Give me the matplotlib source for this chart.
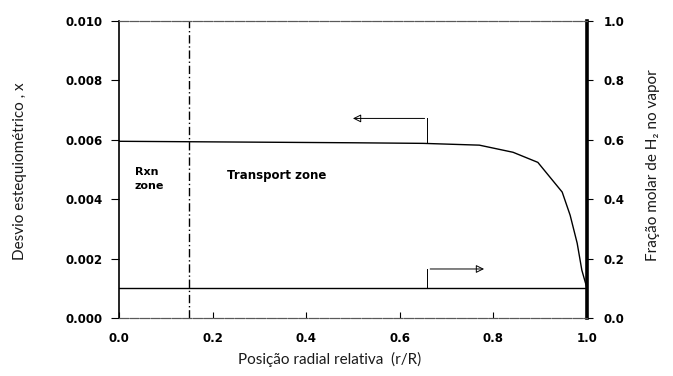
import matplotlib
matplotlib.use("Agg")
import matplotlib.pyplot as plt

# Data
r_x = [0.0, 0.3, 0.5, 0.65, 0.77, 0.842, 0.895, 0.947, 0.964, 0.979, 0.989, 1.0]
x_dev = [0.00595, 0.00592, 0.0059, 0.00588, 0.00582, 0.00558, 0.00524, 0.00424, 0.00346, 0.00252, 0.00161, 0.0010]
r_h2 = [0.0, 0.5, 1.0]
h2_frac = [0.1, 0.1, 0.1]
rxn_boundary = 0.15

xticks = [0.0, 0.2, 0.4, 0.6, 0.8, 1.0]
yticks_left = [0.000, 0.002, 0.004, 0.006, 0.008, 0.010]
yticks_right = [0.0, 0.2, 0.4, 0.6, 0.8, 1.0]

fig = plt.figure(figsize=(6.73, 3.76), dpi=100)
ax = fig.add_axes([0.1768, 0.1543, 0.6954, 0.7898])
ax2 = ax.twinx()

ax.set_xlim(0, 1.0)
ax.set_ylim(0, 0.010)
ax2.set_ylim(0, 1.0)

ax.plot(r_x, x_dev, color="black", lw=1.0)
ax2.plot(r_h2, h2_frac, color="black", lw=1.0)
ax.axvline(rxn_boundary, color="black", lw=1.0, linestyle=(0, (6, 2, 1, 2)))

# arrows indicating axes
ax.plot([0.659, 0.659], [0.00588, 0.00672], color="black", lw=0.7)
ax.annotate("", xy=(0.494, 0.00672), xytext=(0.659, 0.00672),
            arrowprops=dict(arrowstyle="-|>", color="black", lw=0.7,
                            mutation_scale=12, fill=False))
ax.plot([0.659, 0.659], [0.0010, 0.00165], color="black", lw=0.7)
ax.annotate("", xy=(0.786, 0.00165), xytext=(0.659, 0.00165),
            arrowprops=dict(arrowstyle="-|>", color="black", lw=0.7,
                            mutation_scale=12, fill=False))

ax.text(0.034, 0.0049, "Rxn", fontsize=8, fontweight="bold", va="center", ha="left")
ax.text(0.034, 0.00444, "zone", fontsize=8, fontweight="bold", va="center", ha="left")
ax.text(0.231, 0.0048, "Transport zone", fontsize=8.5, fontweight="bold", va="center", ha="left")

ax.set_xticks(xticks)
ax.set_xticklabels([f"{v:.1f}" for v in xticks], fontsize=8.5, fontweight="bold")
ax.set_yticks(yticks_left)
ax.set_yticklabels([f"{v:.3f}" for v in yticks_left], fontsize=8.5, fontweight="bold")
ax2.set_yticks(yticks_right)
ax2.set_yticklabels([f"{v:.1f}" for v in yticks_right], fontsize=8.5, fontweight="bold")

ax.tick_params(axis="x", direction="in", length=4, pad=10)
ax.tick_params(axis="y", direction="out", length=6, pad=6)
ax2.tick_params(axis="y", direction="out", length=4, pad=8)

for a in (ax, ax2):
    for side in ("top", "bottom"):
        a.spines[side].set_color("0.35")
        a.spines[side].set_linewidth(0.8)
        a.spines[side].set_linestyle((0, (8, 1.5)))
ax.spines["left"].set_linewidth(1.2)
ax2.spines["left"].set_visible(False)
ax.spines["right"].set_visible(False)
ax2.spines["right"].set_linewidth(2.6)

lab_font = dict(family=["Lato", "DejaVu Sans"], fontweight="normal", fontsize=11, color="0.1")
fig.text(0.030, 0.545, "Desvio estequiométrico , x", rotation=90, va="center", ha="center", **lab_font)
fig.text(0.970, 0.56, "Fração molar de H₂ no vapor", rotation=90, va="center", ha="center", **lab_font)
fig.text(0.49, 0.043, "Posição radial relativa  (r/R)", va="center", ha="center", **lab_font)

fig.savefig("out.png", dpi=100)
